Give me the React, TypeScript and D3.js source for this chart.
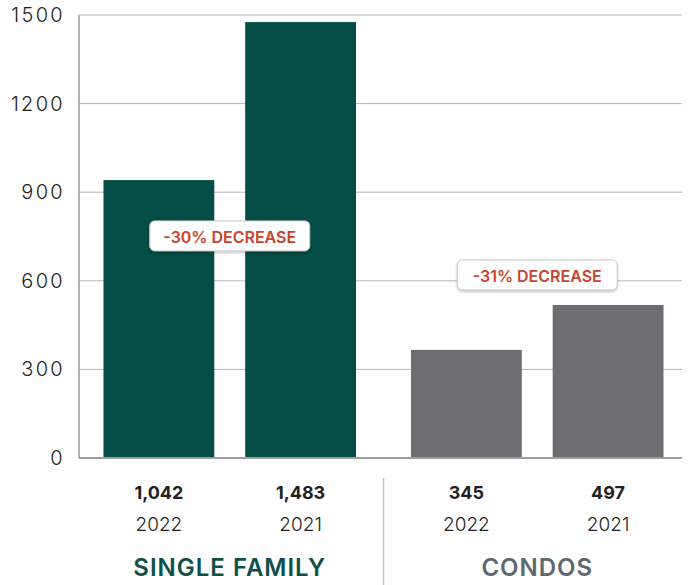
import * as d3 from "d3";

const WIDTH = 690;
const HEIGHT = 585;

const LEFT = 79;
const RIGHT = 682;
const TOP = 15;
const BOTTOM = 458;

const GROUPS = ["SINGLE FAMILY", "CONDOS"];
const YEARS = ["2022", "2021"];
// bar heights as drawn in the picture
const SF_VALUES = [941, 1476];
const CONDO_VALUES = [366, 518];
// printed counts under each bar
const SF_LABELS = ["1,042", "1,483"];
const CONDO_LABELS = ["345", "497"];
const CHANGE_LABELS = ["-30% DECREASE", "-31% DECREASE"];
const CHANGE_AT = [752, 620];
const Y_TICKS = [0, 300, 600, 900, 1200, 1500];

const BAR_COLORS = ["#044c46", "#6d6e71"];
const GROUP_COLORS = ["#0d5049", "#5d6870"];
const FONT = "Inter, 'Open Sans', sans-serif";

export default function App() {
  const y = d3.scaleLinear().domain([0, 1500]).range([BOTTOM, TOP]);
  const gx = d3.scaleBand<string>().domain(GROUPS).range([76, 691]);
  const ix = d3
    .scaleBand<string>()
    .domain(YEARS)
    .range([0, gx.bandwidth()])
    .paddingInner(0.218)
    .paddingOuter(0.194);

  const values = [SF_VALUES, CONDO_VALUES];
  const labels = [SF_LABELS, CONDO_LABELS];

  return (
    <svg
      width={WIDTH}
      height={HEIGHT}
      style={{ position: "absolute", left: 0, top: 0, background: "#fff" }}
      fontFamily={FONT}
    >
      <defs>
        <filter id="shadow" x="-10%" y="-20%" width="120%" height="160%">
          <feDropShadow dx="0" dy="1.5" stdDeviation="0.8" floodColor="#000" floodOpacity="0.25" />
        </filter>
      </defs>

      {/* grid */}
      {Y_TICKS.map((t) => (
        <g key={t}>
          {t > 0 && (
            <line x1={LEFT} x2={RIGHT} y1={y(t)} y2={y(t)} stroke="#b3b3b3" strokeWidth={1} />
          )}
          <text
            x={65}
            y={y(t)}
            textAnchor="end"
            dominantBaseline="central"
            fontSize={20}
            fontWeight={300}
            letterSpacing={2.3}
            fill="#231f20"
          >
            {t}
          </text>
        </g>
      ))}

      {/* bars */}
      {GROUPS.map((g, gi) =>
        YEARS.map((yr, i) => {
          const x0 = (gx(g) ?? 0) + (ix(yr) ?? 0);
          const v = values[gi][i];
          return (
            <rect
              key={g + yr}
              x={x0}
              y={y(v)}
              width={ix.bandwidth()}
              height={y(0) - y(v)}
              fill={BAR_COLORS[gi]}
            />
          );
        })
      )}

      {/* axes */}
      <line x1={LEFT} x2={LEFT} y1={TOP} y2={BOTTOM} stroke="#9d9d9d" strokeWidth={1.5} />
      <line x1={LEFT} x2={RIGHT} y1={BOTTOM} y2={BOTTOM} stroke="#9d9d9d" strokeWidth={2} />

      {/* change badges */}
      {GROUPS.map((g, gi) => {
        const cx = (gx(g) ?? 0) + gx.bandwidth() / 2;
        const cy = y(CHANGE_AT[gi]);
        const w = 160;
        const h = 30;
        return (
          <g key={"c" + g}>
            <rect
              x={cx - w / 2}
              y={cy - h / 2}
              width={w}
              height={h}
              rx={5}
              fill="#fff"
              stroke="#c8c8c8"
              strokeWidth={1}
              filter="url(#shadow)"
            />
            <text
              x={cx}
              y={cy + 1}
              textAnchor="middle"
              dominantBaseline="central"
              fontSize={16}
              fontWeight={600}
              fill="#c8432b"
            >
              {CHANGE_LABELS[gi]}
            </text>
          </g>
        );
      })}

      {/* labels under bars */}
      {GROUPS.map((g, gi) =>
        YEARS.map((yr, i) => {
          const cx = (gx(g) ?? 0) + (ix(yr) ?? 0) + ix.bandwidth() / 2;
          return (
            <g key={"l" + g + yr}>
              <text
                x={cx}
                y={492}
                textAnchor="middle"
                dominantBaseline="central"
                fontSize={18}
                fontWeight={700}
                fill="#231f20"
              >
                {labels[gi][i]}
              </text>
              <text
                x={cx}
                y={524}
                textAnchor="middle"
                dominantBaseline="central"
                fontSize={19}
                fontWeight={300}
                fill="#231f20"
              >
                {yr}
              </text>
            </g>
          );
        })
      )}

      {/* group names */}
      {GROUPS.map((g, gi) => (
        <text
          key={"g" + g}
          x={(gx(g) ?? 0) + gx.bandwidth() / 2}
          y={567}
          textAnchor="middle"
          dominantBaseline="central"
          fontSize={24}
          fontWeight={600}
          letterSpacing={1}
          fill={GROUP_COLORS[gi]}
        >
          {g}
        </text>
      ))}

      {/* divider between groups */}
      <line
        x1={gx("CONDOS") ?? 0}
        x2={gx("CONDOS") ?? 0}
        y1={478}
        y2={HEIGHT}
        stroke="#c4c4c4"
        strokeWidth={1.5}
      />
    </svg>
  );
}
